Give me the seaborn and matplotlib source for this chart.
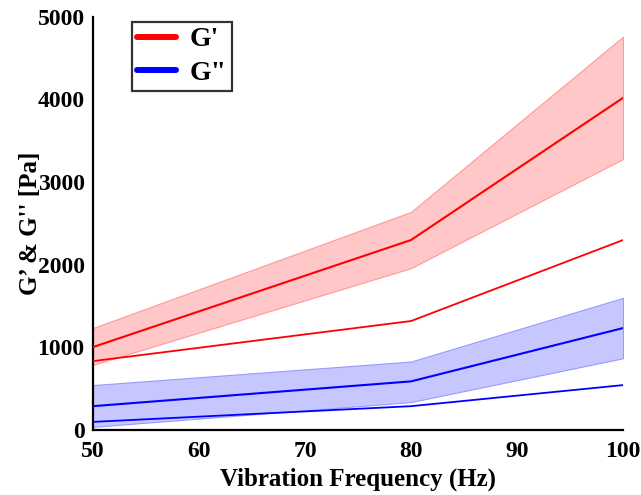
import matplotlib
matplotlib.use("Agg")
import matplotlib.pyplot as plt
import seaborn as sns
import pandas as pd

freq = [50, 80, 100]
g1_mean = [1005, 2300, 4020]
g1_low = [790, 1960, 3280]
g1_high = [1235, 2640, 4760]
g1_line2 = [835, 1320, 2300]
g2_mean = [290, 590, 1235]
g2_low = [40, 340, 870]
g2_high = [545, 830, 1600]
g2_line2 = [100, 290, 545]

sns.set_style("white")
plt.rcParams['font.family'] = ['Liberation Serif', 'DejaVu Serif']
plt.rcParams['font.weight'] = 'bold'
plt.rcParams['text.color'] = 'black'
plt.rcParams['axes.labelcolor'] = 'black'

fig = plt.figure(figsize=(6.41, 4.95), dpi=100)
ax = fig.add_axes([0.145, 0.131, 0.827, 0.835])

ax.fill_between(freq, g1_low, g1_high, color=(1, 0.78, 0.78), edgecolor=(1, 0.6, 0.6), linewidth=0.8, zorder=1)
ax.fill_between(freq, g2_low, g2_high, color=(0.78, 0.78, 1), edgecolor=(0.6, 0.6, 1), linewidth=0.8, zorder=1)

df = pd.DataFrame({"freq": freq, "g1": g1_mean, "g1b": g1_line2, "g2": g2_mean, "g2b": g2_line2})
sns.lineplot(data=df, x="freq", y="g1", color="red", lw=1.5, ax=ax, label="G'", zorder=3)
sns.lineplot(data=df, x="freq", y="g1b", color="red", lw=1.3, ax=ax, zorder=3)
sns.lineplot(data=df, x="freq", y="g2", color="blue", lw=1.5, ax=ax, label='G"', zorder=3)
sns.lineplot(data=df, x="freq", y="g2b", color="blue", lw=1.3, ax=ax, zorder=3)

ax.set_xlim(50, 100)
ax.set_ylim(0, 5000)
ax.set_xticks([50, 60, 70, 80, 90, 100])
ax.set_yticks([0, 1000, 2000, 3000, 4000, 5000])
sns.despine(ax=ax)
for s in ["left", "bottom"]:
    ax.spines[s].set_linewidth(1.6)
    ax.spines[s].set_color("black")
ax.tick_params(direction="in", length=6, width=1.6, labelsize=17, colors="black", labelcolor="black")
ax.tick_params(axis="x", pad=8)
ax.tick_params(axis="y", pad=6)
for lab in ax.get_xticklabels() + ax.get_yticklabels():
    lab.set_fontweight("bold")
ax.set_xlabel("Vibration Frequency (Hz)", fontsize=18, fontweight="bold", labelpad=4, color="black")
ax.set_ylabel("G\u2019 & G'' [Pa]", fontsize=18, fontweight="bold", labelpad=-3, color="black")

leg = ax.legend(loc="upper left", bbox_to_anchor=(0.074, 0.988), borderaxespad=0, fontsize=20,
                frameon=True, fancybox=False, handlelength=1.4, borderpad=0.18, labelspacing=0.3,
                handletextpad=0.5)
leg.get_frame().set_edgecolor("black")
leg.get_frame().set_linewidth(1.6)
for line in leg.get_lines():
    line.set_linewidth(4.3)
for t in leg.get_texts():
    t.set_fontweight("bold")
    t.set_color("black")

fig.savefig("out.png", dpi=100)
